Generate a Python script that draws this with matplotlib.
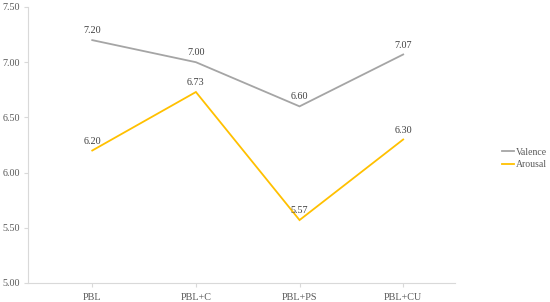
import matplotlib
matplotlib.use("Agg")
import matplotlib.pyplot as plt

categories = ["PBL", "PBL+C", "PBL+PS", "PBL+CU"]
valence = [7.20, 7.00, 6.60, 7.07]
arousal = [6.20, 6.73, 5.57, 6.30]
yticks = [5.00, 5.50, 6.00, 6.50, 7.00, 7.50]

plt.rcParams['font.family'] = ['Liberation Serif', 'DejaVu Serif']
txt = '#595959'
W, H = 550, 302
fig = plt.figure(figsize=(W/100, H/100), dpi=100)
ax = fig.add_axes([28/W, 19/H, 427/W, 276/H])

x = range(len(categories))
ax.plot(x, valence, color='#A5A5A5', lw=1.3, label='Valence', solid_joinstyle='miter')
ax.plot(x, arousal, color='#FFC000', lw=1.3, label='Arousal', solid_joinstyle='miter')

for xi, v in zip(x, valence):
    ax.annotate(f"{v:.2f}", (xi, v), xytext=(0, 3.5), textcoords='offset points',
                ha='center', va='bottom', fontsize=7.3, color='#404040')
for xi, v in zip(x, arousal):
    ax.annotate(f"{v:.2f}", (xi, v), xytext=(0, 3.5), textcoords='offset points',
                ha='center', va='bottom', fontsize=7.3, color='#404040')

ax.set_xlim(-0.62, len(categories) - 0.5)
ax.set_ylim(5.0, 7.5)
ax.set_xticks(list(x))
ax.set_xticklabels(categories)
ax.set_yticks(yticks)
ax.set_yticklabels([f"{t:.2f}" for t in yticks])
ax.tick_params(axis='both', labelsize=7.3, colors='#D9D9D9', labelcolor=txt, length=3, width=0.8)
ax.tick_params(axis='x', pad=4)
ax.tick_params(axis='y', pad=3)
for s in ['top', 'right']:
    ax.spines[s].set_visible(False)
for s in ['left', 'bottom']:
    ax.spines[s].set_color('#D9D9D9')
    ax.spines[s].set_linewidth(0.8)

fig.legend(loc='center left', bbox_to_anchor=(497/W, (H-158.5)/H), frameon=False,
           fontsize=7, handlelength=1.2, handletextpad=0.2, labelspacing=0.35,
           borderpad=0, labelcolor=txt)

fig.savefig('out.png', dpi=100)
